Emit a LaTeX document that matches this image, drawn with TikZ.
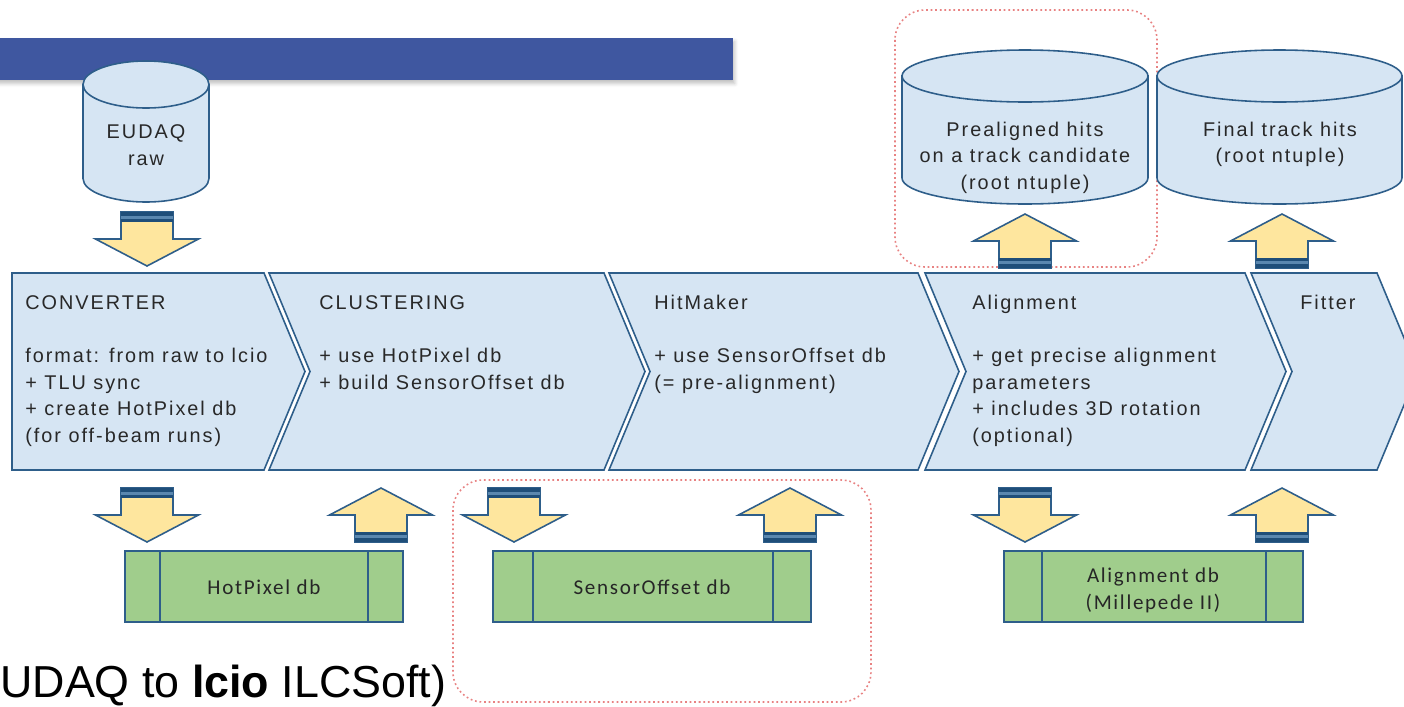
\documentclass[tikz,border=0pt]{standalone}
\usepackage{fontspec}
\setmainfont{Liberation Sans}
\newfontfamily\chevfont{Liberation Sans}[LetterSpace=10]
\newfontfamily\dbfont{Carlito}[LetterSpace=8]
\usetikzlibrary{shadows.blur}

\definecolor{barblue}{RGB}{63,87,160}
\definecolor{chevfill}{RGB}{214,229,243}
\definecolor{lineblue}{RGB}{46,94,138}
\definecolor{arrowyellow}{RGB}{254,230,158}
\definecolor{banddark}{RGB}{31,78,121}
\definecolor{bandmid}{RGB}{90,135,175}
\definecolor{dbgreen}{RGB}{160,205,140}
\definecolor{dotred}{RGB}{232,130,130}
\definecolor{textgray}{RGB}{40,40,40}

\tikzset{
  chev/.style={fill=chevfill, draw=lineblue, line width=0.9pt, line join=miter},
  cyl/.style={fill=chevfill, draw=lineblue, line width=0.9pt},
  blockarrow/.style={fill=arrowyellow, draw=lineblue, line width=0.9pt, line join=miter},
  dbbox/.style={fill=dbgreen, draw=lineblue, line width=0.9pt},
  groupbox/.style={draw=dotred, line width=0.9pt, dash pattern=on 1pt off 1.6pt, rounded corners=0.6cm},
  chevtitle/.style={anchor=base west, inner sep=0pt, text=textgray, font=\chevfont\fontsize{11.3}{13}\selectfont},
  chevtext/.style={chevtitle},
  cyltext/.style={anchor=base, inner sep=0pt, text=textgray, font=\chevfont\fontsize{11.3}{13}\selectfont},
  dbtext/.style={anchor=base, inner sep=0pt, text=black!85, font=\dbfont\fontsize{12}{14}\selectfont}
}

\begin{document}
\begin{tikzpicture}[x=0.02cm, y=-0.02cm]
  \path[use as bounding box] (0,0) rectangle (1404,707);
  \clip (0,0) rectangle (1404,707);

  % title bar
  \fill[barblue, blur shadow={shadow xshift=1pt, shadow yshift=-2pt, shadow opacity=25}] (-5,38) rectangle (733,80);

  % dotted groups
  \draw[groupbox] (895,10) rectangle (1157,267);
  \draw[groupbox] (453,480) rectangle (871,702);

  % data files
  \filldraw[cyl] (83,84.5) -- (83,178.5) arc[start angle=180, end angle=360, x radius=1.26cm, y radius=0.47cm] -- (209,84.5) -- cycle;
  \filldraw[cyl] (146,84.5) ellipse[x radius=1.26cm, y radius=0.47cm];
  \node[cyltext] (eudaq) at (146,138.5) {EUDAQ};
  \node[cyltext] (raw) at (146,165) {raw};

  \filldraw[cyl] (902,76) -- (902,178) arc[start angle=180, end angle=360, x radius=2.46cm, y radius=0.52cm] -- (1148,76) -- cycle;
  \filldraw[cyl] (1025,76) ellipse[x radius=2.46cm, y radius=0.52cm];
  \node[cyltext] (pre1) at (1025,136) {Prealigned hits};
  \node[cyltext] (pre2) at (1025,162.5) {on a track candidate};
  \node[cyltext] (pre3) at (1025,189) {(root ntuple)};

  \filldraw[cyl] (1157,76) -- (1157,178) arc[start angle=180, end angle=360, x radius=2.45cm, y radius=0.52cm] -- (1402,76) -- cycle;
  \filldraw[cyl] (1279.5,76) ellipse[x radius=2.45cm, y radius=0.52cm];
  \node[cyltext] (fin1) at (1280,136) {Final track hits};
  \node[cyltext] (fin2) at (1280,162.5) {(root ntuple)};

  % processor chain
  \filldraw[chev] (12,273) -- (264,273) -- (305,371.5) -- (264,470) -- (12,470) -- cycle;
  \foreach \l/\r in {269/604, 609/918, 925/1245, 1251/1377}
    \filldraw[chev] (\l,273) -- (\r,273) -- (\r+41,371.5) -- (\r,470) -- (\l,470) -- (\l+41,371.5) -- cycle;

  \node[chevtitle] (conv) at (25,309) {CONVERTER};
  \foreach \t [count=\i] in {format: from raw to lcio, + TLU sync, + create HotPixel db, (for off-beam runs)}
    \node[chevtext] (conv\i) at (25,335.8+26.7*\i) {\t};

  \node[chevtitle] (clus) at (319,309) {CLUSTERING};
  \foreach \t [count=\i] in {+ use HotPixel db, + build SensorOffset db}
    \node[chevtext] (clus\i) at (319,335.8+26.7*\i) {\t};

  \node[chevtitle] (hit) at (654,309) {HitMaker};
  \foreach \t [count=\i] in {+ use SensorOffset db, (= pre-alignment)}
    \node[chevtext] (hit\i) at (654,335.8+26.7*\i) {\t};

  \node[chevtitle] (align) at (972,309) {Alignment};
  \foreach \t [count=\i] in {+ get precise alignment, parameters, + includes 3D rotation, (optional)}
    \node[chevtext] (align\i) at (972,335.8+26.7*\i) {\t};

  \node[chevtitle] (fit) at (1300,309) {Fitter};

  % block arrows: down (centre/top) and up (centre/tip)
  \foreach \c/\t in {147/212, 147/488, 514/488, 1025/488} {
    \filldraw[blockarrow] (\c-26,\t) -- (\c+26,\t) -- (\c+26,\t+27) -- (\c+51.5,\t+27) -- (\c,\t+54) -- (\c-51.5,\t+27) -- (\c-26,\t+27) -- cycle;
    \fill[banddark] (\c-26,\t) rectangle (\c+26,\t+10);
    \fill[bandmid] (\c-26,\t+4) rectangle (\c+26,\t+7);
  }
  \foreach \c/\t in {1025/214, 1282/214, 381/488, 790/488, 1282/488} {
    \filldraw[blockarrow] (\c,\t) -- (\c+51.5,\t+27) -- (\c+26,\t+27) -- (\c+26,\t+54) -- (\c-26,\t+54) -- (\c-26,\t+27) -- (\c-51.5,\t+27) -- cycle;
    \fill[banddark] (\c-26,\t+44) rectangle (\c+26,\t+54);
    \fill[bandmid] (\c-26,\t+47) rectangle (\c+26,\t+50);
  }

  % conditions databases
  \foreach \a/\b/\p/\q in {125/403/160/368, 493/811/533/773, 1004/1303/1042/1266} {
    \filldraw[dbbox] (\a,551) rectangle (\b,622);
    \draw[lineblue, line width=0.9pt] (\p,551) -- (\p,622) (\q,551) -- (\q,622);
  }
  \node[dbtext] (hotpix) at (264,594) {HotPixel db};
  \node[dbtext] (offset) at (652,594) {SensorOffset db};
  \node[dbtext] (aligndb) at (1153,582) {Alignment db};
  \node[dbtext] (mille) at (1153,609) {(Millepede II)};

  \node[anchor=base west, inner sep=0pt, font=\fontsize{25.5}{30}\selectfont] (caption) at (0,697) {UDAQ to \textbf{lcio} ILCSoft)};
\end{tikzpicture}
\end{document}
